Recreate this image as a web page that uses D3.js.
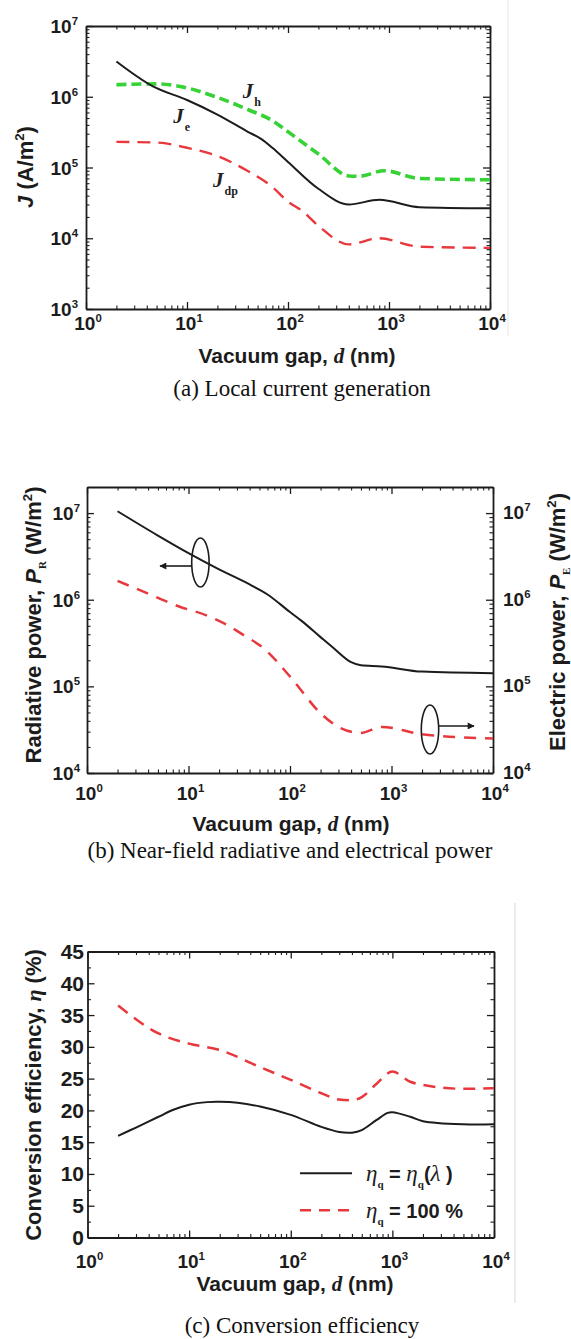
<!DOCTYPE html>
<html>
<head>
<meta charset="utf-8">
<script src="https://cdn.jsdelivr.net/npm/d3@7/dist/d3.min.js"></script>
<style>
html,body{margin:0;padding:0;background:#fff;}
svg{display:block;}
</style>
</head>
<body>
<svg id="fig" width="571" height="1339"></svg>
<script>
// ================= DATA =================
const gapTicks = [1, 10, 100, 1000, 10000];
const jTicks   = [1e3, 1e4, 1e5, 1e6, 1e7];
const pTicks   = [1e4, 1e5, 1e6, 1e7];
const etaTicks = [0, 5, 10, 15, 20, 25, 30, 35, 40, 45];

// (a) local current generation (A/m^2)
const gapJe  = [2, 4.6, 10, 20, 40, 55, 70, 100, 200, 400, 800, 2000, 10000];
const Je     = [3.15e6, 1.4e6, 9.0e5, 5.6e5, 3.2e5, 2.5e5, 1.9e5, 1.2e5, 5.0e4, 3.0e4, 3.5e4, 2.75e4, 2.65e4];
const gapJh  = [2, 5, 8.5, 20, 40, 70, 100, 200, 400, 500, 900, 2000, 10000];
const Jh     = [1.48e6, 1.52e6, 1.4e6, 9.8e5, 6.6e5, 4.6e5, 3.2e5, 1.55e5, 7.6e4, 7.5e4, 9.0e4, 7.0e4, 6.7e4];
const gapJdp = [2, 5, 10, 20, 40, 70, 100, 140, 200, 400, 800, 2000, 10000];
const Jdp    = [2.3e5, 2.25e5, 1.9e5, 1.45e5, 8.9e4, 5.3e4, 3.3e4, 2.4e4, 1.5e4, 8.2e3, 1.0e4, 7.6e3, 7.3e3];

// (b) radiative (PR) and electric (PE) power (W/m^2)
const gapPR = [2, 5, 10, 20, 40, 60, 100, 130, 200, 270, 400, 500, 800, 2000, 10000];
const PR    = [1.05e7, 5.5e6, 3.45e6, 2.24e6, 1.5e6, 1.15e6, 7.2e5, 5.7e5, 3.7e5, 2.75e5, 1.9e5, 1.75e5, 1.7e5, 1.48e5, 1.42e5];
const gapPE = [2, 3.6, 8.2, 15, 24, 35, 55, 100, 200, 300, 500, 800, 2000, 10000];
const PE    = [1.65e6, 1.24e6, 8.3e5, 6.6e5, 5.1e5, 3.9e5, 2.75e5, 1.3e5, 4.9e4, 3.4e4, 2.9e4, 3.4e4, 2.8e4, 2.5e4];

// (c) conversion efficiency (%)
const gapEtaL = [2, 3, 5, 7, 10, 15, 20, 30, 50, 100, 200, 300, 400, 500, 700, 900, 1000, 1500, 2000, 5000, 10000];
const etaL    = [16.0, 17.3, 19.0, 20.1, 20.9, 21.3, 21.35, 21.2, 20.6, 19.3, 17.4, 16.6, 16.5, 16.9, 18.5, 19.6, 19.7, 19.0, 18.3, 17.8, 17.8];
const gapEta1 = [2, 5, 10, 20, 50, 100, 200, 300, 400, 500, 700, 1000, 1500, 2000, 5000, 10000];
const eta1    = [36.5, 32.1, 30.5, 29.5, 26.8, 24.8, 22.7, 21.7, 21.6, 22.1, 24.2, 26.1, 24.5, 24.0, 23.4, 23.5];

// ================= DRAWING =================
const svg = d3.select("#fig");
const SANS = "'Liberation Sans', Arial, Helvetica, sans-serif";
const SERIF = "'Liberation Serif', 'Times New Roman', Times, serif";
const INK = "#1c1c1c";
const RED = "#e8383d";
const GREEN = "#36d236";

function logMinors(lo, hi) {
  const out = [];
  for (let e = Math.round(Math.log10(lo)); e < Math.round(Math.log10(hi)); e++)
    for (let k = 2; k <= 9; k++) out.push(k * Math.pow(10, e));
  return out.filter(v => v <= hi);
}

function rich(sel, parts, fs) {
  let shift = 0;
  parts.forEach(p => {
    const ts = sel.append("tspan").text(p.t);
    let target = 0;
    if (p.sup) { target = -fs * 0.42; ts.attr("font-size", p.fs || fs * 0.6); }
    else if (p.sub) { target = p.subShift != null ? p.subShift : fs * 0.3; ts.attr("font-size", p.fs || fs * 0.55); }
    else if (p.fs) ts.attr("font-size", p.fs);
    if (target !== shift) { ts.attr("dy", target - shift); shift = target; }
    if (p.i) ts.attr("font-style", "italic");
    if (p.serif) ts.attr("font-family", SERIF);
    if (p.w) ts.attr("font-weight", p.w);
    if (p.dx) ts.attr("dx", p.dx);
  });
}

function frame(xs, ys, yMaj, yMin) {
  const [x0, x1] = xs.range();
  const [y1, y0] = ys.range();
  const g = svg.append("g");
  const xMin = logMinors(1, 1e4);
  const defs = [
    [() => d3.axisBottom(xs), 0, y1, gapTicks, xMin],
    [() => d3.axisTop(xs), 0, y0, gapTicks, xMin],
    [() => d3.axisLeft(ys), x0, 0, yMaj, yMin],
    [() => d3.axisRight(ys), x1, 0, yMaj, yMin]
  ];
  defs.forEach(([mk, tx, ty, maj, mn]) => {
    const a1 = g.append("g").attr("transform", `translate(${tx},${ty})`)
      .call(mk().tickValues(mn).tickSizeInner(-3.5).tickSizeOuter(0).tickFormat(""));
    a1.select(".domain").remove();
    a1.selectAll(".tick text").remove();
    a1.selectAll(".tick line").attr("stroke", INK).attr("stroke-width", 1.1);
    const a2 = g.append("g").attr("transform", `translate(${tx},${ty})`)
      .call(mk().tickValues(maj).tickSizeInner(-7).tickSizeOuter(0).tickFormat(""));
    a2.selectAll(".tick text").remove();
    a2.select(".domain").attr("stroke", INK).attr("stroke-width", 1.8);
    a2.selectAll(".tick line").attr("stroke", INK).attr("stroke-width", 1.3);
  });
  return g;
}

function powLabel(x, y, exp, anchor, fs) {
  const t = svg.append("text").attr("x", x).attr("y", y)
    .attr("text-anchor", anchor).attr("font-family", SANS).attr("font-weight", "bold")
    .attr("font-size", fs).attr("fill", INK);
  rich(t, [{ t: "10" }, { t: String(exp), sup: true, fs: fs * 0.6 }], fs);
  return t;
}

function xTickLabels(xs, yBase) {
  gapTicks.forEach(v => powLabel(xs(v) + 2, yBase, Math.round(Math.log10(v)), "middle", 19));
}

function series(xs, ys, gx, gy, color, width, dash, curve) {
  const line = d3.line().x(d => xs(d[0])).y(d => ys(d[1])).curve(curve || d3.curveMonotoneX);
  svg.append("path").datum(d3.zip(gx, gy)).attr("d", line)
    .attr("fill", "none").attr("stroke", color).attr("stroke-width", width)
    .attr("stroke-dasharray", dash || null).attr("stroke-linejoin", "round");
}

function vTitle(x, y, parts, fs) {
  const t = svg.append("text").attr("transform", `translate(${x},${y}) rotate(-90)`)
    .attr("text-anchor", "middle").attr("font-family", SANS).attr("font-weight", "bold")
    .attr("font-size", fs).attr("fill", INK);
  rich(t, parts, fs);
}

function xTitle(cx, y) {
  const t = svg.append("text").attr("x", cx).attr("y", y).attr("text-anchor", "middle")
    .attr("font-family", SANS).attr("font-weight", "bold").attr("font-size", 21).attr("fill", INK);
  rich(t, [{ t: "Vacuum gap, " }, { t: "d", i: true, serif: true }, { t: " (nm)" }], 21);
}

function caption(cx, y, txt) {
  svg.append("text").attr("x", cx).attr("y", y).attr("text-anchor", "middle")
    .attr("font-family", SERIF).attr("font-size", 23).attr("fill", "#111").text(txt);
}

// faint scan edges
svg.append("line").attr("x1", 508).attr("x2", 508).attr("y1", 0).attr("y2", 336)
  .attr("stroke", "#ececec").attr("stroke-width", 1.5);
svg.append("line").attr("x1", 515).attr("x2", 515).attr("y1", 903).attr("y2", 1303)
  .attr("stroke", "#e4e4e4").attr("stroke-width", 1.5);

// ---------- Panel (a) ----------
{
  const xs = d3.scaleLog().domain([1, 1e4]).range([86, 490]);
  const ys = d3.scaleLog().domain([1e3, 1e7]).range([309, 26]);
  frame(xs, ys, jTicks, logMinors(1e3, 1e7));
  series(xs, ys, gapJh, Jh, GREEN, 3.6, "10,5");
  series(xs, ys, gapJdp, Jdp, RED, 2.4, "13,8");
  series(xs, ys, gapJe, Je, INK, 2);
  jTicks.forEach(v => powLabel(78, ys(v) + 7, Math.round(Math.log10(v)), "end", 19));
  xTickLabels(xs, 330);
  vTitle(33, 167, [{ t: "J", i: true }, { t: " (A/m" }, { t: "2", sup: true }, { t: ")" }], 22);
  xTitle(297, 363);
  caption(302, 396, "(a) Local current generation");
  const lab = [
    { d: 35.6, v: 9.5e5, s: "h" },
    { d: 7.3, v: 4.26e5, s: "e" },
    { d: 18.1, v: 5.36e4, s: "dp" }
  ];
  lab.forEach(L => {
    const t = svg.append("text").attr("x", xs(L.d)).attr("y", ys(L.v))
      .attr("font-family", SERIF).attr("font-weight", "bold").attr("font-size", 21).attr("fill", "#222");
    rich(t, [{ t: "J", i: true }, { t: L.s, sub: true, fs: 12, subShift: 8, dx: 1 }], 21);
  });
}

// ---------- Panel (b) ----------
{
  const xs = d3.scaleLog().domain([1, 1e4]).range([87, 493]);
  const ys = d3.scaleLog().domain([1e4, 2e7]).range([773, 487]);
  frame(xs, ys, pTicks, logMinors(1e4, 2e7));
  series(xs, ys, gapPE, PE, RED, 2.5, "12,9");
  series(xs, ys, gapPR, PR, INK, 2);
  pTicks.forEach(v => powLabel(80, ys(v) + 7, Math.round(Math.log10(v)), "end", 19));
  pTicks.forEach(v => powLabel(503, ys(v) + 6, Math.round(Math.log10(v)), "start", 19));
  xTickLabels(xs, 800);
  vTitle(41, 625, [{ t: "Radiative power, " }, { t: "P", i: true }, { t: "R", sub: true, serif: true, fs: 11, subShift: 5 },
                   { t: " (W/m" }, { t: "2", sup: true }, { t: ")" }], 22);
  vTitle(565, 622, [{ t: "Electric power, " }, { t: "P", i: true }, { t: "E", sub: true, serif: true, fs: 11, subShift: 5 },
                    { t: " (W/m" }, { t: "2", sup: true }, { t: ")" }], 22);
  xTitle(291, 831);
  caption(290, 858, "(b) Near-field radiative and electrical power");

  svg.append("defs").append("marker").attr("id", "ah").attr("viewBox", "0 0 10 10")
    .attr("refX", 9).attr("refY", 5).attr("markerWidth", 9).attr("markerHeight", 7)
    .attr("markerUnits", "userSpaceOnUse").attr("orient", "auto")
    .append("path").attr("d", "M0,0L10,5L0,10Z").attr("fill", INK);
  const ann = [
    { cd: 13.1, cv: 2.69e6, av: 2.45e6, tip: 5.24, dir: -1 },
    { cd: 2395, cv: 3.18e4, av: 3.49e4, tip: 6500, dir: 1 }
  ];
  ann.forEach(A => {
    const cx = xs(A.cd), cy = ys(A.cv), rx = 8.7, ry = 24.5;
    svg.append("ellipse").attr("cx", cx).attr("cy", cy).attr("rx", rx).attr("ry", ry)
      .attr("fill", "none").attr("stroke", INK).attr("stroke-width", 1.6);
    svg.append("line").attr("x1", cx + A.dir * rx).attr("x2", xs(A.tip))
      .attr("y1", ys(A.av)).attr("y2", ys(A.av))
      .attr("stroke", INK).attr("stroke-width", 1.6).attr("marker-end", "url(#ah)");
  });
}

// ---------- Panel (c) ----------
{
  const xs = d3.scaleLog().domain([1, 1e4]).range([87.5, 494]);
  const ys = d3.scaleLinear().domain([0, 45]).range([1237.5, 951.5]);
  const etaMinor = d3.range(2.5, 45, 5);
  frame(xs, ys, etaTicks, etaMinor);
  series(xs, ys, gapEta1, eta1, RED, 2.5, "12,8");
  series(xs, ys, gapEtaL, etaL, INK, 2, null, d3.curveCatmullRom.alpha(0.5));
  etaTicks.forEach(v => svg.append("text").attr("x", 84).attr("y", ys(v) + 7.5)
    .attr("text-anchor", "end").attr("font-family", SANS).attr("font-weight", "bold")
    .attr("font-size", 21).attr("fill", INK).text(v));
  xTickLabels(xs, 1268);
  vTitle(41, 1095, [{ t: "Conversion efficiency, " }, { t: "η", i: true, serif: true }, { t: " (%)" }], 22);
  xTitle(295, 1291);
  caption(302, 1333, "(c) Conversion efficiency");

  // legend
  const legY = [10.1, 4.3];
  svg.append("line").attr("x1", 300).attr("x2", 352).attr("y1", ys(legY[0])).attr("y2", ys(legY[0]))
    .attr("stroke", INK).attr("stroke-width", 2);
  svg.append("line").attr("x1", 300).attr("x2", 352).attr("y1", ys(legY[1])).attr("y2", ys(legY[1]))
    .attr("stroke", RED).attr("stroke-width", 2.5).attr("stroke-dasharray", "11,8");
  const t1 = svg.append("text").attr("x", 366).attr("y", ys(legY[0]) + 7.5)
    .attr("font-family", SANS).attr("font-weight", "bold").attr("font-size", 20).attr("fill", INK);
  rich(t1, [{ t: "η", i: true, serif: true, w: "normal", fs: 23 }, { t: "q", sub: true, serif: true, fs: 11, subShift: 7 },
            { t: " = " }, { t: "η", i: true, serif: true, w: "normal", fs: 23 }, { t: "q", sub: true, serif: true, fs: 11, subShift: 7 },
            { t: "(" }, { t: "λ", i: true, serif: true, w: "normal", fs: 23 }, { t: " )" }], 20);
  const t2 = svg.append("text").attr("x", 366).attr("y", ys(legY[1]) + 7.5)
    .attr("font-family", SANS).attr("font-weight", "bold").attr("font-size", 20).attr("fill", INK);
  rich(t2, [{ t: "η", i: true, serif: true, w: "normal", fs: 23 }, { t: "q", sub: true, serif: true, fs: 11, subShift: 7 },
            { t: " = 100 %" }], 20);
}
</script>
</body>
</html>
